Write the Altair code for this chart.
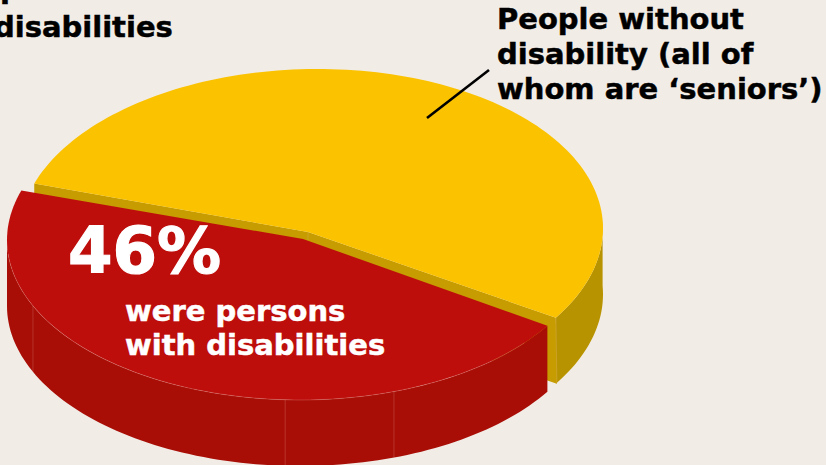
import math
import altair as alt

# Shares of the two slices, in percent
categories = ["People without disability", "Persons with disabilities"]
shares = [54, 46]

WIDTH, HEIGHT = 826, 465
DEPTH = 66
FONT = "DejaVu Sans"

BACKGROUND = "#F2ECE6"
COLOURS = {
    "yellow_top": "#FBC200",
    "yellow_inner": "#C69C00",
    "yellow_outer": "#B89300",
    "red_top": "#BE0E0C",
    "red_outer": "#A80E06",
}

# Tilted-disc geometry: centre x/y, radii x/y, lean of the ellipse, slice apex, first rim angle
YELLOW = dict(cx=311, cy=232, rx=292, ry=163, lean=0.0125, apex=(308, 232), start=33.0)
RED = dict(cx=300, cy=240, rx=293, ry=160, lean=0.0, apex=(303, 239), start=32.4)
RED_SWEEP = 360 * shares[1] / sum(shares)
STEP = 1.5


def rim(disc, t, drop=0):
    a = math.radians(t)
    dx = disc["rx"] * math.cos(a)
    return [disc["cx"] + dx, disc["cy"] + disc["ry"] * math.sin(a) - disc["lean"] * dx + drop]


def sweep(disc, t0, t1, drop=0):
    n = max(2, int(abs(t1 - t0) / STEP))
    return [rim(disc, t0 + (t1 - t0) * i / n, drop) for i in range(n + 1)]


def polygon(face, pts):
    return {
        "type": "Feature",
        "properties": {"face": face},
        "geometry": {"type": "Polygon", "coordinates": [pts + [pts[0]]]},
    }


def path(name, pts):
    return {
        "type": "Feature",
        "properties": {"face": name},
        "geometry": {"type": "LineString", "coordinates": pts},
    }


y0 = YELLOW["start"]
y1 = y0 + RED_SWEEP
r0 = RED["start"]
r1 = r0 + RED_SWEEP
apex_y = list(YELLOW["apex"])
apex_r = list(RED["apex"])
y_a = rim(YELLOW, y1)
y_b = rim(YELLOW, y0)

# Painter's order: back walls first, then the tops and the red wall
faces = [
    polygon("yellow_outer", sweep(YELLOW, -3, y0) + sweep(YELLOW, y0, -3, DEPTH)),
    polygon("yellow_inner", [y_a, apex_y, y_b, [y_b[0] + 1, y_b[1] + DEPTH], [apex_y[0], apex_y[1] + DEPTH], [y_a[0], y_a[1] + DEPTH]]),
    polygon("yellow_top", [apex_y] + sweep(YELLOW, y1, y0 + 360)),
    polygon("red_outer", sweep(RED, r0, 180) + sweep(RED, 180, r0, DEPTH)),
    polygon("red_top", [apex_r] + sweep(RED, r0, r1)),
]

# Thin highlights along the rim and at the seams of the walls
seam_angles = [155.7, 92.9, 71.3]
highlights = [path("rim", sweep(RED, 40, 175))]
highlights += [path("seam", [rim(RED, t), rim(RED, t, DEPTH)]) for t in seam_angles]
highlights.append(path("corner", [y_b, [y_b[0] + 1, y_b[1] + DEPTH]]))
highlights.append(path("apex", [apex_y, [apex_y[0], apex_y[1] + 8]]))

leader = [path("leader", [[427, 118], [489, 70]])]

projection = alt.Projection(type="identity", scale=1, translate=[0, 0])

face_layer = (
    alt.Chart(alt.Data(values=faces))
    .mark_geoshape(strokeWidth=0)
    .encode(
        color=alt.Color(
            "properties.face:N",
            scale=alt.Scale(domain=list(COLOURS), range=list(COLOURS.values())),
            legend=None,
        )
    )
    .project(**projection.to_dict())
)

highlight_layer = (
    alt.Chart(alt.Data(values=highlights))
    .mark_geoshape(filled=False, stroke="#F3C4B8", strokeWidth=0.7, strokeOpacity=0.3)
    .project(**projection.to_dict())
)

leader_layer = (
    alt.Chart(alt.Data(values=leader))
    .mark_geoshape(filled=False, stroke="#000000", strokeWidth=2.6)
    .project(**projection.to_dict())
)


def label(text, x, y, size, colour, weight=0.5):
    return (
        alt.Chart(alt.Data(values=[{"text": text}]))
        .mark_text(
            align="left",
            baseline="alphabetic",
            font=FONT,
            fontWeight="bold",
            fontSize=size,
            color=colour,
            stroke=colour,
            strokeWidth=weight,
        )
        .encode(x=alt.value(x), y=alt.value(y), text=alt.Text("text:N"))
    )


labels = [
    label("persons with", 0, -2, 29, "#000000"),
    label("disabilities", -6, 37, 29, "#000000"),
    label("People without", 497, 29, 29, "#000000"),
    label("disability (all of", 497, 64, 29, "#000000"),
    label("whom are \u2018seniors\u2019)", 497, 99, 29, "#000000"),
    label("46%", 68, 273, 64, "#FFFFFF", 1.2),
    label("were persons", 125, 321, 29, "#FFFFFF"),
    label("with disabilities", 125, 355, 29, "#FFFFFF"),
]

chart = (
    alt.layer(face_layer, highlight_layer, leader_layer, *labels)
    .properties(
        width=WIDTH,
        height=HEIGHT,
        padding=0,
        background=BACKGROUND,
        autosize=alt.AutoSizeParams(type="none"),
    )
    .configure_view(stroke=None)
)

chart.save("out.html", embed_options={"renderer": "svg", "actions": False})
